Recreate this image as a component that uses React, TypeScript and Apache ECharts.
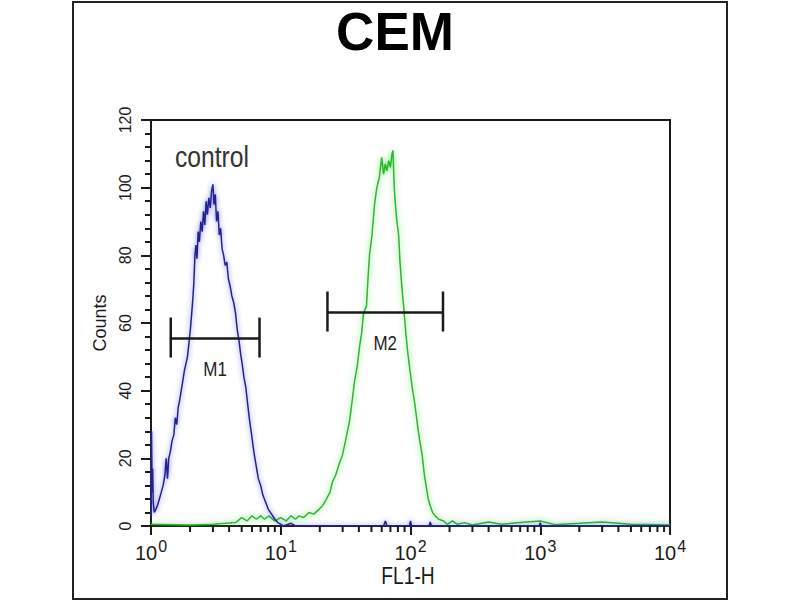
import React, { useEffect, useRef } from "react";
import * as echarts from "echarts";

const chartTitle = "CEM";
const xAxisTitle = "FL1-H";
const yAxisTitle = "Counts";
const controlLabel = "control";

const xMin = 1;
const xMax = 10000;
const yMin = 0;
const yMax = 120;
const yStep = 20;

const xMinorTicks = [
  2, 3, 4, 5, 6, 7, 8, 9,
  20, 30, 40, 50, 60, 70, 80, 90,
  200, 300, 400, 500, 600, 700, 800, 900,
  2000, 3000, 4000, 5000, 6000, 7000, 8000, 9000,
];

// control (blue) histogram: [FL1-H, counts]
const controlHistogram: [number, number][] = [
  [1.0, 3], [1.01, 28], [1.02, 10], [1.03, 17], [1.04, 7], [1.06, 4], [1.09, 5],
  [1.12, 6], [1.16, 8], [1.2, 10], [1.24, 12], [1.28, 15], [1.31, 20], [1.34, 14],
  [1.37, 20], [1.41, 22], [1.45, 25], [1.5, 27], [1.54, 32], [1.58, 30], [1.62, 35],
  [1.66, 37], [1.71, 40], [1.76, 43], [1.81, 46], [1.86, 48], [1.91, 50], [1.96, 54],
  [2.01, 58], [2.06, 63], [2.1, 67], [2.14, 72], [2.18, 80], [2.22, 83], [2.26, 79],
  [2.31, 87], [2.36, 84], [2.42, 90], [2.48, 87], [2.54, 93], [2.6, 89], [2.66, 96],
  [2.72, 92], [2.79, 97], [2.86, 94], [2.93, 99], [3.0, 101], [3.06, 95], [3.13, 98],
  [3.2, 90], [3.28, 93], [3.36, 86], [3.44, 88], [3.53, 82], [3.63, 80], [3.73, 77],
  [3.84, 78], [3.95, 73], [4.07, 71], [4.2, 68], [4.34, 66], [4.48, 63], [4.62, 58],
  [4.76, 55], [4.9, 51], [5.04, 48], [5.2, 44], [5.38, 41], [5.56, 36], [5.76, 31],
  [5.96, 27], [6.2, 22], [6.45, 18], [6.72, 14], [7.0, 12], [7.3, 9], [7.65, 7],
  [8.0, 5], [8.5, 3.5], [9.0, 2], [9.5, 1], [10.0, 0.5], [10.5, 0], [12, 0.8],
  [13, 0], [20, 0], [62, 0], [64, 1.5], [66, 0], [98, 0], [100, 1.5], [102, 0],
  [139, 0], [142, 1.2], [145, 0], [980, 0], [1000, 1], [1020, 0], [10000, 0],
];

// sample (green) histogram: [FL1-H, counts]
const sampleHistogram: [number, number][] = [
  [1.0, 0.5], [2, 0.3], [3, 0.5], [4.5, 1], [5, 2.5], [5.5, 1.5], [6, 3], [6.5, 2],
  [7, 3], [7.5, 2], [8.1, 3], [9, 1.5], [10, 2.5], [11, 1.5], [12, 3], [13, 2],
  [13.8, 3], [15, 2.5], [16.5, 4], [18, 3.5], [19.8, 5], [21, 6], [22.5, 8], [24, 10],
  [25, 13], [26.5, 15], [28, 18], [29.9, 21], [31.5, 25], [33.9, 31], [35.5, 37],
  [37.1, 43], [38.8, 47], [40.5, 53], [42, 57], [43.5, 63], [45.8, 65], [47, 73],
  [48.3, 80], [50.5, 86], [52.8, 95], [55, 100], [57.5, 103], [60, 109], [62, 104],
  [64, 107], [65.7, 105], [68, 108], [70, 106], [72, 110], [73.2, 111], [75, 100],
  [76.5, 95], [78.6, 90], [81, 86], [83, 78], [86, 70], [89, 64], [92, 57], [95.4, 51],
  [99, 46], [103, 41], [108, 36], [114, 29], [118, 25], [123, 21], [128, 15], [133, 11],
  [137, 8], [142, 6], [148, 4], [155, 3], [165, 2], [180, 1.5], [192, 0.5], [210, 1.5],
  [230, 0.5], [260, 1], [300, 0.3], [400, 1.2], [500, 0.5], [700, 1], [1000, 1.5],
  [1300, 0.4], [2000, 0.8], [3000, 1.2], [5000, 0.5], [10000, 0.3],
];

const gateNames = ["M1", "M2"];
const gateFrom = [1.42, 22.9];
const gateTo = [6.86, 178];
const gateLevel = [55.4, 63.1];

export default function App() {
  const ref = useRef<HTMLDivElement>(null);

  useEffect(() => {
    if (!ref.current) return;
    const chart = echarts.init(ref.current, null, { renderer: "svg" });
    const font = "Liberation Sans, Arial, sans-serif";
    const ink = "#1a1a1a";

    const option: any = {
      animation: false,
      backgroundColor: "#ffffff",
      grid: {
        left: 151,
        right: 130,
        top: 120,
        bottom: 74,
        show: true,
        borderColor: ink,
        borderWidth: 2,
      },
      xAxis: {
        type: "log",
        logBase: 10,
        min: xMin,
        max: xMax,
        splitNumber: 4,
        axisLine: { show: true, onZero: false, lineStyle: { color: ink, width: 2 } },
        axisTick: { show: true, length: 9, lineStyle: { color: ink, width: 2 } },
        splitLine: { show: false },
        axisLabel: {
          margin: 12,
          color: ink,
          formatter: (v: number) => `{b|10}{s|${Math.round(Math.log10(v))}}`,
          rich: {
            b: { fontSize: 20, color: ink, verticalAlign: "bottom" },
            s: { fontSize: 16, color: ink, verticalAlign: "bottom", padding: [0, 0, 9, 1] },
          },
        },
      },
      yAxis: {
        type: "value",
        min: yMin,
        max: yMax,
        interval: yStep,
        axisLine: { show: true, lineStyle: { color: ink, width: 2 } },
        axisTick: { show: true, length: 10, lineStyle: { color: ink, width: 2 } },
        minorTick: { show: true, splitNumber: 5, length: 6, lineStyle: { color: ink, width: 2 } },
        splitLine: { show: false },
        axisLabel: { rotate: 90, margin: 18, fontSize: 16, color: ink, fontFamily: font },
        name: yAxisTitle,
        nameLocation: "middle",
        nameGap: 40,
        nameTextStyle: { fontSize: 18, color: ink, fontFamily: font },
      },
      graphic: [
        {
          type: "rect",
          shape: { x: 73, y: 2, width: 654, height: 597 },
          style: { fill: "none", stroke: "#222222", lineWidth: 2 },
          silent: true,
        },
        {
          type: "text",
          x: 395,
          y: 31,
          style: {
            text: chartTitle,
            fill: "#000000",
            font: `bold 53px ${font}`,
            align: "center",
            verticalAlign: "middle",
          },
        },
        {
          type: "text",
          x: 175,
          y: 157,
          scaleX: 0.85,
          style: {
            text: controlLabel,
            fill: "#333333",
            font: `29px ${font}`,
            align: "left",
            verticalAlign: "middle",
          },
        },
        {
          type: "text",
          x: 408,
          y: 576,
          scaleX: 0.8,
          style: {
            text: xAxisTitle,
            fill: ink,
            font: `24px ${font}`,
            align: "center",
            verticalAlign: "middle",
          },
        },
      ],
      series: [
        {
          name: "sample",
          type: "line",
          data: sampleHistogram,
          showSymbol: false,
          symbol: "none",
          lineStyle: {
            color: "#2fb52f",
            width: 1.5,
            shadowColor: "rgba(60,230,60,0.8)",
            shadowBlur: 6,
          },
        },
        {
          name: "control",
          type: "line",
          data: controlHistogram,
          showSymbol: false,
          symbol: "none",
          lineStyle: {
            color: "#24248a",
            width: 1.5,
            shadowColor: "rgba(60,60,255,0.7)",
            shadowBlur: 5,
          },
        },
        {
          name: "minorTicks",
          type: "custom",
          data: xMinorTicks.map((v) => [v, 0]),
          encode: { x: 0, y: 1 },
          clip: false,
          z: 5,
          silent: true,
          renderItem: (_params: any, api: any) => {
            const p = api.coord([api.value(0), 0]);
            return {
              type: "line",
              shape: { x1: p[0], y1: p[1], x2: p[0], y2: p[1] + 6 },
              style: { stroke: ink, lineWidth: 2 },
            };
          },
        },
        {
          name: "gates",
          type: "custom",
          data: gateNames.map((_, i) => [gateFrom[i], gateTo[i], gateLevel[i]]),
          encode: { x: [0, 1], y: 2 },
          z: 6,
          silent: true,
          renderItem: (params: any, api: any) => {
            const a = api.coord([api.value(0), api.value(2)]);
            const b = api.coord([api.value(1), api.value(2)]);
            const st = { stroke: ink, lineWidth: 2.5 };
            return {
              type: "group",
              children: [
                { type: "line", shape: { x1: a[0], y1: a[1], x2: b[0], y2: b[1] }, style: st },
                { type: "line", shape: { x1: a[0], y1: a[1] - 21, x2: a[0], y2: a[1] + 19 }, style: st },
                { type: "line", shape: { x1: b[0], y1: b[1] - 21, x2: b[0], y2: b[1] + 19 }, style: st },
                {
                  type: "text",
                  x: (a[0] + b[0]) / 2,
                  y: a[1] + 30,
                  scaleX: 0.85,
                  style: {
                    text: gateNames[params.dataIndex],
                    fill: "#222222",
                    font: `20px ${font}`,
                    align: "center",
                    verticalAlign: "middle",
                  },
                },
              ],
            };
          },
        },
      ],
    };

    chart.setOption(option);
    return () => chart.dispose();
  }, []);

  return <div ref={ref} style={{ position: "fixed", left: 0, top: 0, width: 800, height: 600 }} />;
}
